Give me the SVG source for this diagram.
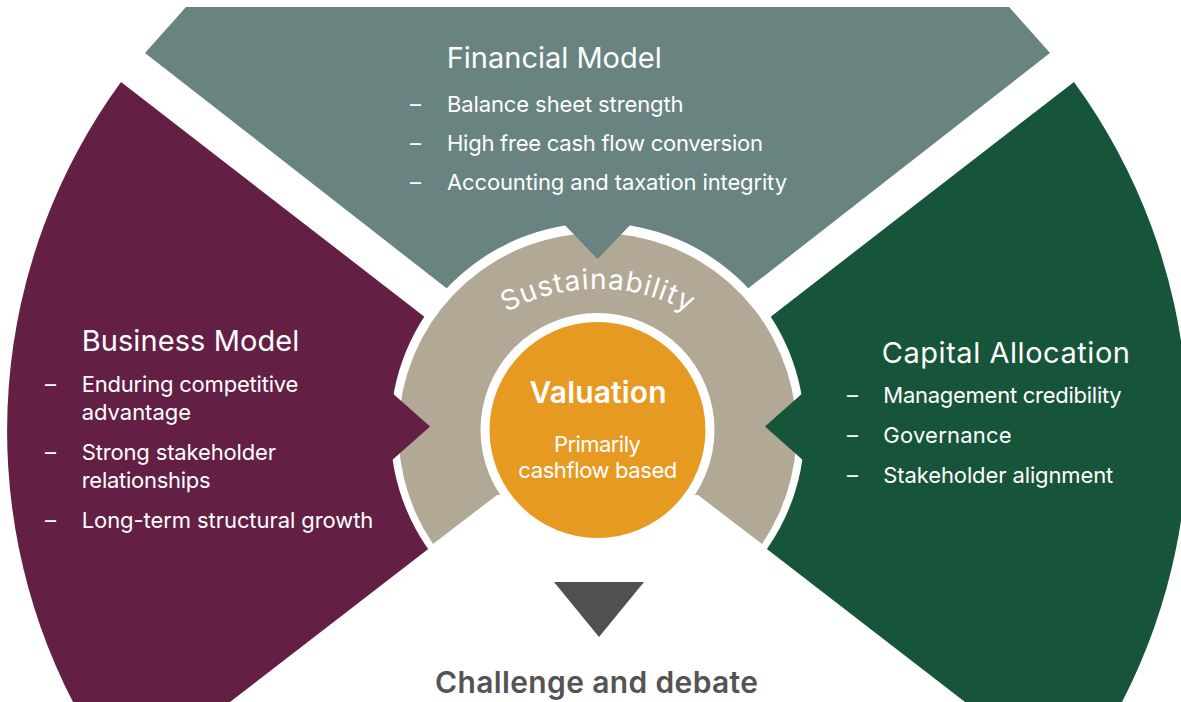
<svg xmlns="http://www.w3.org/2000/svg" width="1181" height="702" viewBox="0 0 1181 702">
  <defs>
    <style>
      .t { font-family: Inter, "Liberation Sans", "DejaVu Sans", sans-serif; fill: #ffffff; }
      .title { font-size: 29px; }
      .item { font-size: 22px; }
      .teal { fill: #688380; }
      .plum { fill: #641F44; }
      .forest { fill: #17553B; }
      .sand { fill: #B1A996; }
      .amber { fill: #E79A22; }
    </style>
    <path id="sustArc" d="M 435.5 382.5 A 187 187 0 0 1 759.5 382.5"/>
  </defs>
  <rect width="1181" height="702" fill="#ffffff"/>

  <g id="node-financial">
    <polygon class="teal" points="145,53 186,7 1009,7 1050,53 597.5,406"/>
  </g>
  <g id="node-business">
    <path class="plum" d="M 121 82 L 576.6 434.5 L 230 702 L 73 702 A 591 591 0 0 1 121 82 Z"/>
  </g>
  <g id="node-capital">
    <path class="forest" d="M 1074 82 L 618.4 434.5 L 965 702 L 1122 702 A 591 591 0 0 0 1074 82 Z"/>
  </g>

  <g id="node-sustainability">
    <circle cx="597.5" cy="430" r="207" fill="#ffffff"/>
    <path class="sand" d="M 433 544 A 199 199 0 1 1 762 544 L 698 495 L 497 495 Z"/>
  </g>

  <g id="connectors">
    <polygon class="teal" points="560,220 597.5,259 635,220"/>
    <polygon class="plum" points="381,383 430,426.5 381,470"/>
    <polygon class="forest" points="814,383 765,426.5 814,470"/>
    <polygon fill="#505051" points="554,582 644,582 599,637"/>
  </g>

  <g id="node-valuation">
    <circle cx="597.5" cy="430" r="117" fill="#ffffff"/>
    <circle class="amber" cx="597.5" cy="430" r="108"/>
    <text class="t" x="598" y="403.3" font-size="30" font-weight="600" text-anchor="middle" textLength="137">Valuation</text>
    <text class="t item" x="597.4" y="451.7" text-anchor="middle" textLength="87">Primarily</text>
    <text class="t item" x="597.8" y="478.3" text-anchor="middle" textLength="159">cashflow based</text>
  </g>

  <g id="label-sustainability">
    <text class="t" font-size="28"><textPath href="#sustArc" startOffset="50%" text-anchor="middle" textLength="190">Sustainability</textPath></text>
  </g>

  <g id="text-financial">
    <text class="t title" x="446.7" y="68.3" textLength="215">Financial Model</text>
    <text class="t item" x="410" y="111.7">–</text>
    <text class="t item" x="447" y="111.7" textLength="236.6">Balance sheet strength</text>
    <text class="t item" x="410" y="150.7">–</text>
    <text class="t item" x="447" y="150.7" textLength="316">High free cash flow conversion</text>
    <text class="t item" x="410" y="190">–</text>
    <text class="t item" x="447" y="190" textLength="340">Accounting and taxation integrity</text>
  </g>

  <g id="text-business">
    <text class="t title" x="81.7" y="350.7" textLength="217.6">Business Model</text>
    <text class="t item" x="45" y="391.7">–</text>
    <text class="t item" x="81.7" y="391.7" textLength="216.6">Enduring competitive</text>
    <text class="t item" x="81.7" y="420" textLength="109.3">advantage</text>
    <text class="t item" x="45" y="460">–</text>
    <text class="t item" x="81.7" y="460" textLength="194.3">Strong stakeholder</text>
    <text class="t item" x="81.7" y="488.3" textLength="129">relationships</text>
    <text class="t item" x="45" y="528.3">–</text>
    <text class="t item" x="81.7" y="528.3" textLength="291.6">Long-term structural growth</text>
  </g>

  <g id="text-capital">
    <text class="t title" x="881.7" y="363.3" textLength="248.3">Capital Allocation</text>
    <text class="t item" x="847" y="403.3">–</text>
    <text class="t item" x="883.3" y="403.3" textLength="238.4">Management credibility</text>
    <text class="t item" x="847" y="443.3">–</text>
    <text class="t item" x="883.3" y="443.3" textLength="128.4">Governance</text>
    <text class="t item" x="847" y="482.7">–</text>
    <text class="t item" x="883.3" y="482.7" textLength="230">Stakeholder alignment</text>
  </g>

  <g id="node-challenge">
    <text x="596.5" y="693.3" font-family="Inter, 'Liberation Sans', sans-serif" font-size="30" font-weight="600" fill="#545454" text-anchor="middle" textLength="323">Challenge and debate</text>
  </g>
</svg>
